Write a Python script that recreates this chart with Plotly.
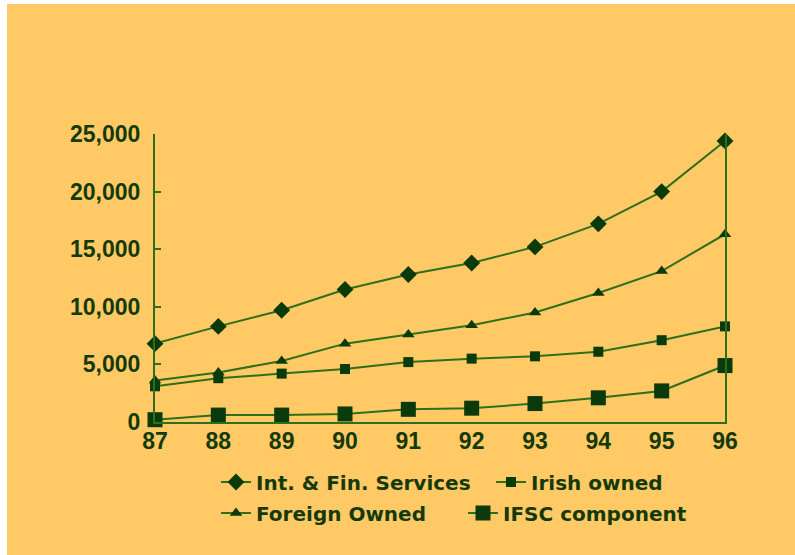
import plotly.graph_objects as go

years = ["87", "88", "89", "90", "91", "92", "93", "94", "95", "96"]
year_vals = [87, 88, 89, 90, 91, 92, 93, 94, 95, 96]

int_fin = [6800, 8300, 9700, 11500, 12800, 13800, 15200, 17200, 20000, 24400]
irish_owned = [3100, 3800, 4200, 4600, 5200, 5500, 5700, 6100, 7100, 8300]
foreign_owned = [3600, 4300, 5300, 6800, 7600, 8400, 9500, 11200, 13100, 16300]
ifsc = [200, 600, 600, 700, 1100, 1200, 1600, 2100, 2700, 4900]

y_ticks = [0, 5000, 10000, 15000, 20000, 25000]

BG = "#FFC966"
LINE = "#2f6f1c"
MARK = "#0b3a0b"
TXT = "#153a0a"
TICKFONT = "Liberation Sans, Arial, sans-serif"
LEGFONT = "DejaVu Sans, sans-serif"

W, H = 795, 555
L, R, T, B = 155, 70, 134, 133
PW, PH = W - L - R, H - T - B

fig = go.Figure()

# name, values, symbol, size, legend id, legend text-start px, legend row centre px
series = [
    ("Int. & Fin. Services", int_fin, "diamond", 13, "legend", 258, 482),
    ("Irish owned", irish_owned, "square", 10, "legend2", 533, 482),
    ("Foreign Owned", foreign_owned, "triangle-up", 11, "legend3", 258, 513),
    ("IFSC component", ifsc, "square", 15, "legend4", 505, 513),
]
legends = {}
for name, vals, sym, size, lg, tx, ty in series:
    fig.add_trace(go.Scatter(
        x=year_vals, y=vals, name=name, mode="lines+markers",
        line=dict(color=LINE, width=2),
        marker=dict(symbol=sym, size=size, color=MARK, line=dict(width=0)),
        cliponaxis=False, legend=lg,
    ))
    legends[lg] = dict(
        xref="container", yref="container",
        x=(tx - 42) / W, xanchor="left",
        y=1 - ty / H, yanchor="middle",
        orientation="h", itemwidth=30,
        font=dict(family=LEGFONT, size=20, color=TXT, weight="bold"),
        bgcolor="rgba(0,0,0,0)", borderwidth=0,
    )

def px_x(px):
    return (px - L) / PW

def px_y(py):
    return (H - B - py) / PH

fig.add_shape(type="rect", xref="paper", yref="paper",
              x0=px_x(7), x1=px_x(W + 5), y0=px_y(H + 5), y1=px_y(4),
              fillcolor=BG, line=dict(width=0), layer="below")

fig.update_layout(
    width=W, height=H,
    margin=dict(l=L, r=R, t=T, b=B, pad=0, autoexpand=False),
    paper_bgcolor="white",
    plot_bgcolor=BG,
    font=dict(family=TICKFONT, color=TXT, size=20, weight="bold"),
    showlegend=True,
    **legends,
)

fig.update_xaxes(
    range=[87, 96], tickvals=year_vals, ticktext=years,
    showgrid=False, zeroline=False,
    showline=True, linecolor=LINE, linewidth=2,
    ticks="", ticklabelstandoff=-3,
    tickfont=dict(family=TICKFONT, size=23, color=TXT, weight="bold"),
)
fig.update_yaxes(
    range=[0, 25000], tickvals=y_ticks, tickformat=",d",
    showgrid=False, zeroline=False,
    showline=True, linecolor=LINE, linewidth=2, mirror=True,
    ticks="inside", ticklen=6, tickcolor=LINE, tickwidth=2,
    ticklabelstandoff=8,
    tickfont=dict(family=TICKFONT, size=23, color=TXT, weight="bold"),
)

fig.write_html("out.html")
